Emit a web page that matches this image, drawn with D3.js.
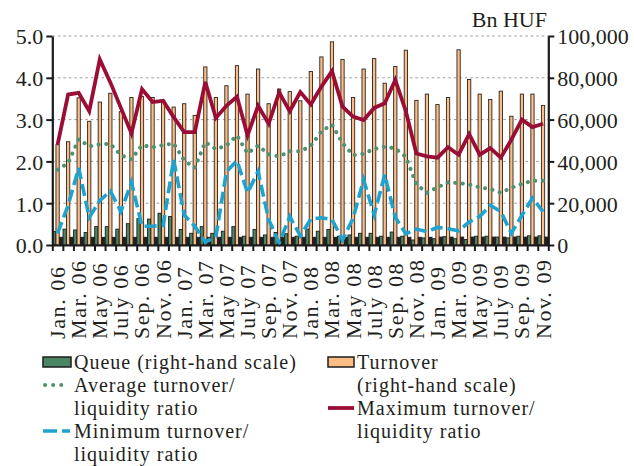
<!DOCTYPE html>
<html>
<head>
<meta charset="utf-8">
<script src="https://cdn.jsdelivr.net/npm/d3@7/dist/d3.min.js"></script>
<style>
  html, body { margin: 0; padding: 0; background: #fff; }
  svg text { font-family: "Liberation Serif", "DejaVu Serif", serif; fill: #231f20; }
</style>
</head>
<body>
<svg id="chart" width="634" height="466"></svg>
<script>
// Monthly categories, Jan 2006 – Nov 2009
const months = [
  "Jan. 06","Feb. 06","Mar. 06","Apr. 06","May 06","June 06","July 06","Aug. 06","Sep. 06","Oct. 06","Nov. 06","Dec. 06",
  "Jan. 07","Feb. 07","Mar. 07","Apr. 07","May 07","June 07","July 07","Aug. 07","Sep. 07","Oct. 07","Nov. 07","Dec. 07",
  "Jan. 08","Feb. 08","Mar. 08","Apr. 08","May 08","June 08","July 08","Aug. 08","Sep. 08","Oct. 08","Nov. 08","Dec. 08",
  "Jan. 09","Feb. 09","Mar. 09","Apr. 09","May 09","June 09","July 09","Aug. 09","Sep. 09","Oct. 09","Nov. 09"
];

// Right-hand scale (Bn HUF)
const queue = [
  6400, 7600, 7200, 6000, 8800, 8800, 7600, 10200, 12600, 12400, 15200, 13600,
  7400, 5600, 8800, 5600, 6600, 8800, 4200, 7400, 4800, 6000, 5400, 4200,
  7600, 6600, 7400, 4200, 4800, 5600, 5600, 4200, 6200, 4200, 2400, 3400,
  3000, 4000, 3000, 2600, 4200, 4200, 3800, 3400, 4200, 4400, 4400
];
const turnover = [
  48000, 49400, 70400, 59200, 68400, 72600, 63800, 70600, 71000, 70600, 69200, 66000,
  67600, 62000, 85200, 70600, 76200, 85800, 72200, 84200, 67600, 74600, 73400, 69000,
  83000, 90000, 97200, 88800, 70600, 84200, 89200, 77400, 85400, 93200, 69200, 72200,
  67200, 70600, 93400, 79200, 72200, 69600, 73600, 61600, 72200, 72200, 66800
];
// unlabelled third bar in each month group
const thirdBar = [
  3700, 3700, 3700, 3700, 3700, 3700, 3700, 3700, 3700, 3700, 3700, 3700,
  3700, 3700, 3700, 3700, 3700, 3700, 3700, 3700, 3700, 3700, 3700, 3700,
  3700, 3700, 3700, 3700, 3700, 3700, 3700, 3700, 3700, 3700, 3700, 3700,
  3800, 3800, 3800, 3800, 3800, 3800, 3800, 3800, 3800, 3800, 3800
];

// Left-hand scale (turnover/liquidity ratio)
const avgRatio = [
  1.80, 1.96, 2.53, 2.36, 2.41, 2.42, 2.15, 2.05, 2.39, 2.34, 2.39, 2.43,
  2.02, 1.85, 2.46, 2.29, 2.38, 2.62, 2.19, 2.38, 2.17, 2.12, 2.24, 2.24,
  2.37, 2.72, 2.88, 2.44, 2.15, 2.18, 2.30, 2.35, 2.31, 2.11, 1.45, 1.25,
  1.38, 1.50, 1.48, 1.45, 1.38, 1.34, 1.25, 1.37, 1.46, 1.54, 1.54
];
const minRatio = [
  0.28, 0.95, 1.84, 0.66, 1.06, 1.29, 0.80, 1.50, 0.45, 0.45, 0.47, 2.04,
  0.72, 0.45, 0.07, 0.20, 1.75, 2.02, 1.25, 1.76, 0.61, 0.05, 0.68, 0.22,
  0.62, 0.65, 0.61, 0.12, 0.64, 1.56, 0.72, 1.68, 0.66, 0.27, 0.38, 0.32,
  0.42, 0.39, 0.34, 0.55, 0.68, 0.95, 0.80, 0.28, 0.71, 1.12, 0.80
];
const maxRatio = [
  2.40, 3.60, 3.64, 3.20, 4.44, 3.89, 3.28, 2.67, 3.73, 3.42, 3.45, 3.06,
  2.70, 2.70, 3.90, 3.04, 3.33, 3.55, 2.62, 3.33, 2.90, 3.65, 3.20, 3.66,
  3.36, 3.79, 4.16, 3.31, 3.07, 2.99, 3.28, 3.39, 3.95, 3.20, 2.19, 2.12,
  2.09, 2.34, 2.16, 2.65, 2.16, 2.32, 2.09, 2.52, 3.00, 2.82, 2.90
];

const leftTicks = [0, 1, 2, 3, 4, 5];
const rightTicks = [0, 20000, 40000, 60000, 80000, 100000];
const unitLabel = "Bn HUF";

const colors = {
  queue: "#4a8665",
  turnover: "#fbbd85",
  third: "#231f20",
  avg: "#52916f",
  min: "#1ea3cf",
  max: "#9a0e35",
  grid: "#9a9a9a",
  axis: "#1a1a1a"
};

const svg = d3.select("#chart");
const plot = { left: 52.3, right: 548.3, top: 36, bottom: 245 };
const FS = 22;
const LFS = 20;

const x = d3.scaleBand().domain(months).range([plot.left, plot.right]).padding(0);
const xIdx = d3.scaleLinear().domain([0, months.length]).range([plot.left, plot.right]);
const xSub = d3.scaleBand().domain(["queue", "turnover", "third"]).range([0, x.bandwidth()]).paddingInner(0.06).paddingOuter(0.05);
const yL = d3.scaleLinear().domain([0, 5]).range([plot.bottom, plot.top]);
const yR = d3.scaleLinear().domain([0, 100000]).range([plot.bottom, plot.top]);

// gridlines
svg.append("g").selectAll("line").data(leftTicks.filter(d => d > 0)).join("line")
  .attr("x1", plot.left).attr("x2", plot.right)
  .attr("y1", d => yL(d)).attr("y2", d => yL(d))
  .attr("stroke", colors.grid).attr("stroke-width", 1).attr("stroke-dasharray", "2.5,3");

// bars
const bars = svg.append("g");
const barSeries = [
  { key: "queue", values: queue, fill: colors.queue, stroke: "#1d1d1d" },
  { key: "turnover", values: turnover, fill: colors.turnover, stroke: "#2a2420" },
  { key: "third", values: thirdBar, fill: colors.third, stroke: "#231f20" }
];
barSeries.forEach(s => {
  bars.append("g").selectAll("rect").data(s.values).join("rect")
    .attr("x", (d, i) => x(months[i]) + xSub(s.key))
    .attr("width", xSub.bandwidth())
    .attr("y", d => yR(d))
    .attr("height", d => yR(0) - yR(d))
    .attr("fill", s.fill)
    .attr("stroke", s.stroke)
    .attr("stroke-width", 0.9);
});

// lines
const cx = (d, i) => x(months[i]) + x.bandwidth() / 2;
const line = d3.line().x(cx).y(d => yL(d));

svg.append("path").datum(avgRatio).attr("d", line)
  .attr("fill", "none").attr("stroke", colors.avg).attr("stroke-width", 4)
  .attr("stroke-linecap", "round").attr("stroke-dasharray", "0.1,7.5");
svg.append("path").datum(minRatio).attr("d", line)
  .attr("fill", "none").attr("stroke", colors.min).attr("stroke-width", 3.6)
  .attr("stroke-dasharray", "12,5");
svg.append("path").datum(maxRatio).attr("d", line)
  .attr("fill", "none").attr("stroke", colors.max).attr("stroke-width", 3.8)
  .attr("stroke-linejoin", "miter");

// axes
const styleAxis = g => {
  g.select(".domain").attr("stroke", colors.axis).attr("stroke-width", 2.2);
  g.selectAll(".tick line").attr("stroke", colors.axis).attr("stroke-width", 2);
  g.selectAll("text").attr("font-size", FS).attr("fill", "#231f20")
    .attr("font-family", "Liberation Serif, serif");
};

svg.append("g").attr("transform", `translate(${plot.left},0)`)
  .call(d3.axisLeft(yL).tickValues(leftTicks).tickFormat(d3.format(".1f")).tickSize(6).tickSizeOuter(0).tickPadding(3))
  .call(styleAxis)
  .call(g => g.selectAll("text").attr("dy", "0.36em"));

svg.append("g").attr("transform", `translate(${plot.right},0)`)
  .call(d3.axisRight(yR).tickValues(rightTicks).tickFormat(d3.format(",")).tickSize(6).tickSizeOuter(0).tickPadding(3))
  .call(styleAxis)
  .call(g => g.selectAll("text").attr("dy", "0.36em"));

// bottom axis: ticks at month boundaries
svg.append("g").attr("transform", `translate(0,${plot.bottom})`)
  .call(d3.axisBottom(xIdx).tickValues(d3.range(0, months.length + 1)).tickFormat("").tickSize(6).tickSizeOuter(0))
  .call(styleAxis);

// month labels, every second month, rotated
svg.append("g").selectAll("text")
  .data(months.filter((m, i) => i % 2 === 0)).join("text")
  .attr("transform", m => `translate(${x(m) + x.bandwidth() / 2},339) rotate(-90)`)
  .attr("dy", "0.34em")
  .attr("text-anchor", "start")
  .attr("font-size", FS)
  .attr("letter-spacing", 1.6)
  .text(m => m);

// unit label
svg.append("text").attr("x", 547).attr("y", 27).attr("text-anchor", "end")
  .attr("font-size", FS).text(unitLabel);

// legend
const lg = svg.append("g").attr("font-size", LFS).attr("letter-spacing", 1);
lg.append("rect").attr("x", 43).attr("y", 357).attr("width", 28).attr("height", 10)
  .attr("fill", colors.queue).attr("stroke", "#1d1d1d").attr("stroke-width", 1.5);
lg.append("text").attr("x", 74).attr("y", 369).text("Queue (right-hand scale)");

lg.append("rect").attr("x", 328).attr("y", 357).attr("width", 26).attr("height", 10)
  .attr("fill", colors.turnover).attr("stroke", "#1d1d1d").attr("stroke-width", 1.5);
lg.append("text").attr("x", 357).attr("y", 369).text("Turnover");
lg.append("text").attr("x", 357).attr("y", 392).text("(right-hand scale)");

lg.append("line").attr("x1", 45).attr("x2", 67).attr("y1", 385).attr("y2", 385)
  .attr("stroke", colors.avg).attr("stroke-width", 4).attr("stroke-linecap", "round").attr("stroke-dasharray", "0.1,8");
lg.append("text").attr("x", 74).attr("y", 392).text("Average turnover/");
lg.append("text").attr("x", 74).attr("y", 414.5).text("liquidity ratio");

lg.append("line").attr("x1", 328).attr("x2", 354).attr("y1", 408).attr("y2", 408)
  .attr("stroke", colors.max).attr("stroke-width", 3.8);
lg.append("text").attr("x", 357).attr("y", 415).text("Maximum turnover/");
lg.append("text").attr("x", 357).attr("y", 438).text("liquidity ratio");

lg.append("line").attr("x1", 43).attr("x2", 70).attr("y1", 431).attr("y2", 431)
  .attr("stroke", colors.min).attr("stroke-width", 3.6).attr("stroke-dasharray", "14,5");
lg.append("text").attr("x", 74).attr("y", 438).text("Minimum turnover/");
lg.append("text").attr("x", 74).attr("y", 460.5).text("liquidity ratio");
</script>
</body>
</html>
